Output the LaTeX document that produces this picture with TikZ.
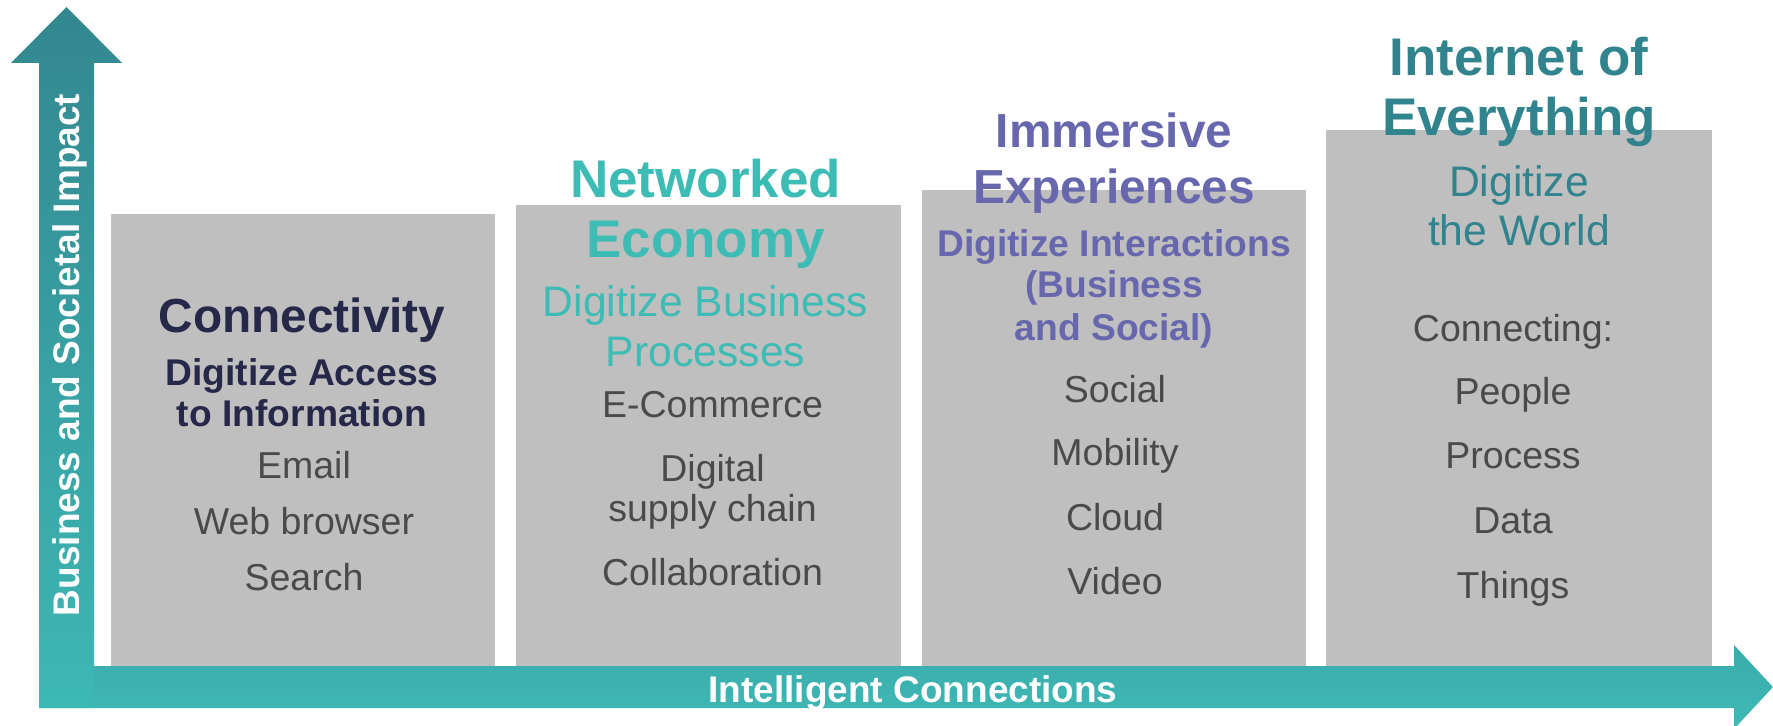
\documentclass[tikz,border=0pt]{standalone}
\usepackage{fontspec}
\setmainfont{Liberation Sans}
\usetikzlibrary{positioning}

\definecolor{boxgray}{HTML}{BFBFBF}
\definecolor{itemgray}{HTML}{4A4A4A}
\definecolor{navy}{HTML}{262849}
\definecolor{netteal}{HTML}{3DBBB5}
\definecolor{immpurple}{HTML}{6767AE}
\definecolor{ioeteal}{HTML}{31838D}
\definecolor{vtop}{HTML}{33878F}
\definecolor{vbot}{HTML}{3DB8B5}
\definecolor{htop}{HTML}{3AACAB}
\definecolor{hbot}{HTML}{3FBAB7}

\tikzset{
    item/.style={anchor=base, inner sep=0pt, text=itemgray, font=\fontsize{37.5bp}{40bp}\selectfont},
    big title/.style={anchor=base, inner sep=0pt, font=\bfseries\fontsize{53bp}{56bp}\selectfont},
    mid title/.style={anchor=base, inner sep=0pt, font=\bfseries\fontsize{47.8bp}{52bp}\selectfont},
    sub bold/.style={anchor=base, inner sep=0pt, font=\bfseries\fontsize{37.2bp}{40bp}\selectfont},
    sub light/.style={anchor=base, inner sep=0pt, font=\fontsize{42.7bp}{46bp}\selectfont},
    axis label/.style={anchor=base, inner sep=0pt, text=white, font=\bfseries\fontsize{37bp}{40bp}\selectfont},
    panel/.style={fill=boxgray}
}

\begin{document}
\begin{tikzpicture}[x=1bp,y=-1bp]
    \useasboundingbox (0,0) rectangle (1773,726);

    % the four panels
    \fill[panel] (111,214) rectangle (495,666);
    \fill[panel] (516,205) rectangle (901,666);
    \fill[panel] (922,190) rectangle (1306,666);
    \fill[panel] (1326,130) rectangle (1712,666);

    % axes
    \shade[top color=htop, bottom color=hbot] (39,666) -- (1734,666) -- (1734,645) -- (1773,687)
        -- (1734,729) -- (1734,708) -- (39,708) -- cycle;
    \shade[top color=vtop, bottom color=vbot] (39,708) -- (39,63) -- (11,63) -- (66.5,7)
        -- (122,63) -- (94,63) -- (94,708) -- cycle;
    \node[axis label, rotate=90] (yaxis) at (79,355) {Business and Societal Impact};
    \node[axis label] (xaxis) at (913,702) {Intelligent Connections};

    % Connectivity
    \node[mid title, text=navy] (con) at (302,332) {Connectivity};
    \node[sub bold, text=navy] (conA) at (302,385) {Digitize Access};
    \node[sub bold, text=navy] (conB) at (302,426) {to Information};
    \node[item] (email) at (304,478) {Email};
    \node[item] (web) at (304,534) {Web browser};
    \node[item] (search) at (304,590) {Search};

    % Networked Economy
    \node[big title, text=netteal] (netA) at (705.5,197) {Networked};
    \node[big title, text=netteal] (netB) at (705.5,257) {Economy};
    \node[sub light, text=netteal] (netC) at (705.5,316) {Digitize Business};
    \node[sub light, text=netteal] (netD) at (705.5,366) {Processes};
    \node[item] (ecom) at (712.5,417) {E-Commerce};
    \node[item] (digi) at (712.5,481) {Digital};
    \node[item] (supply) at (712.5,521) {supply chain};
    \node[item] (collab) at (712.5,585) {Collaboration};

    % Immersive Experiences
    \node[mid title, text=immpurple] (immA) at (1114,148) {Immersive};
    \node[mid title, text=immpurple] (immB) at (1114,203) {Experiences};
    \node[sub bold, text=immpurple] (immC) at (1114,256) {Digitize Interactions};
    \node[sub bold, text=immpurple] (immD) at (1114,297) {(Business};
    \node[sub bold, text=immpurple] (immE) at (1114,340) {and Social)};
    \node[item] (social) at (1115,402) {Social};
    \node[item] (mobil) at (1115,465) {Mobility};
    \node[item] (cloud) at (1115,530) {Cloud};
    \node[item] (video) at (1115,594) {Video};

    % Internet of Everything
    \node[big title, text=ioeteal] (ioeA) at (1519,76) {Internet of};
    \node[big title, text=ioeteal] (ioeB) at (1519,136) {Everything};
    \node[sub light, text=ioeteal] (ioeC) at (1519,196) {Digitize};
    \node[sub light, text=ioeteal] (ioeD) at (1519,245) {the World};
    \node[item] (conn) at (1513,341) {Connecting:};
    \node[item] (people) at (1513,404) {People};
    \node[item] (proc) at (1513,468) {Process};
    \node[item] (data) at (1513,533) {Data};
    \node[item] (things) at (1513,598) {Things};
\end{tikzpicture}
\end{document}
